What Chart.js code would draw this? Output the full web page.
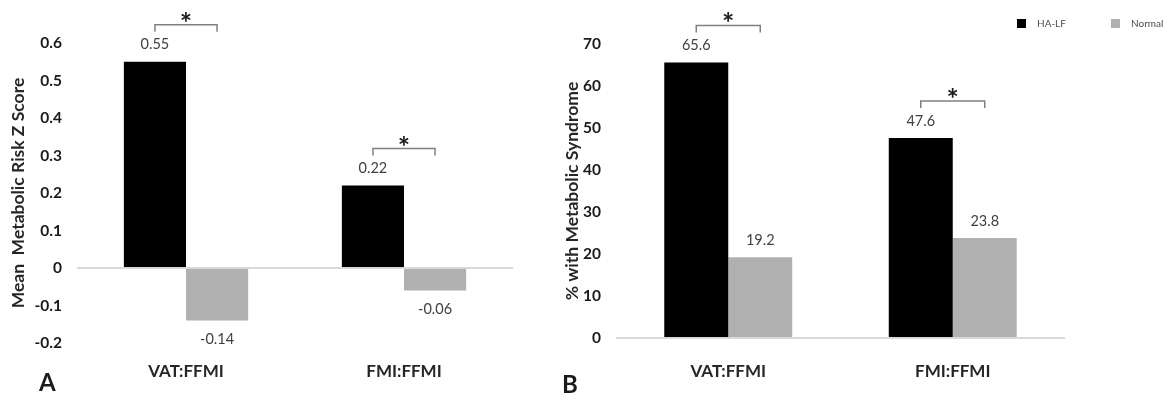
<!DOCTYPE html>
<html>
<head>
<meta charset="utf-8">
<script src="https://cdn.jsdelivr.net/npm/chart.js@4.4.1/dist/chart.umd.min.js"></script>
<style>
    body { margin: 0; background: #fff; }
    #wrap { position: relative; width: 1174px; height: 401px; overflow: hidden; }
    canvas { position: absolute; top: 0; }
    #chartA { left: 0; }
    #chartB { left: 560px; }
    .panel { position: absolute; font: bold 24px Lato, sans-serif; color: #1a1a1a; }
</style>
</head>
<body>
<div id="wrap">
    <canvas id="chartA" width="560" height="401"></canvas>
    <canvas id="chartB" width="614" height="401"></canvas>
    <div class="panel" style="left:39px; top:367px;">A</div>
    <div class="panel" style="left:562px; top:369px;">B</div>
</div>
<script>
const categories = ['VAT:FFMI', 'FMI:FFMI'];
const seriesNames = ['HA-LF', 'Normal'];

// panel A: mean metabolic risk z score
const zHALF = [0.55, 0.22];
const zNormal = [-0.14, -0.06];
const zTicks = [-0.2, -0.1, 0, 0.1, 0.2, 0.3, 0.4, 0.5, 0.6];
const zSignif = [true, true];

// panel B: % with metabolic syndrome
const pctHALF = [65.6, 47.6];
const pctNormal = [19.2, 23.8];
const pctTicks = [0, 10, 20, 30, 40, 50, 60, 70];
const pctSignif = [true, true];

const BLACK = '#000000';
const GREY = '#b0b0b0';
const FONT = 'Lato, sans-serif';

// value labels, significance brackets
const annotatePlugin = {
    id: 'annotate',
    afterDatasetsDraw(chart, args, opts) {
        const ctx = chart.ctx;
        const m0 = chart.getDatasetMeta(0);
        const m1 = chart.getDatasetMeta(1);
        const zeroY = chart.scales.y.getPixelForValue(0);
        ctx.save();
        ctx.font = '14.5px ' + FONT;
        ctx.fillStyle = '#404040';
        ctx.textAlign = 'center';
        ctx.textBaseline = 'middle';
        chart.data.datasets.forEach((ds, i) => {
            chart.getDatasetMeta(i).data.forEach((bar, j) => {
                const v = ds.data[j];
                const y = v >= 0 ? bar.y - 17 : bar.y + 19;
                ctx.fillText(v.toFixed(opts.digits), bar.x, y);
            });
        });
        opts.signif.forEach((sig, j) => {
            if (!sig) return;
            const a = m0.data[j], b = m1.data[j];
            const y = Math.min(a.y, b.y, zeroY) - 37;
            ctx.strokeStyle = '#808080';
            ctx.lineWidth = 1.5;
            ctx.beginPath();
            ctx.moveTo(a.x, y + 7);
            ctx.lineTo(a.x, y);
            ctx.lineTo(b.x, y);
            ctx.lineTo(b.x, y + 7);
            ctx.stroke();
            ctx.font = 'bold 29px ' + FONT;
            ctx.fillStyle = '#1a1a1a';
            ctx.textBaseline = 'alphabetic';
            ctx.fillText('*', (a.x + b.x) / 2, y + 8);
        });
        ctx.restore();
    }
};

// small legend in the top right corner of panel B
const cornerLegend = {
    id: 'cornerLegend',
    afterDraw(chart, args, opts) {
        if (!opts.show) return;
        const ctx = chart.ctx;
        ctx.save();
        ctx.font = '10px ' + FONT;
        ctx.textBaseline = 'middle';
        ctx.textAlign = 'left';
        chart.data.datasets.forEach((ds, i) => {
            const x = opts.x[i];
            ctx.fillStyle = ds.backgroundColor;
            ctx.fillRect(x, opts.y, 9, 9);
            ctx.fillStyle = '#4d4d4d';
            ctx.fillText(ds.label, x + 20, opts.y + 5);
        });
        ctx.restore();
    }
};

function makeChart(canvasId, halfData, normalData, ticks, signif, cfg) {
    return new Chart(document.getElementById(canvasId), {
        type: 'bar',
        data: {
            labels: categories,
            datasets: [{
                label: seriesNames[0],
                data: halfData,
                backgroundColor: BLACK,
                categoryPercentage: 0.57,
                barPercentage: 1
            }, {
                label: seriesNames[1],
                data: normalData,
                backgroundColor: GREY,
                categoryPercentage: 0.57,
                barPercentage: 1
            }]
        },
        options: {
            responsive: false,
            animation: false,
            devicePixelRatio: 1,
            layout: { padding: cfg.padding },
            scales: {
                x: {
                    grid: { display: false },
                    border: { display: false },
                    ticks: {
                        color: '#262626',
                        padding: cfg.xPad,
                        font: { family: FONT, size: 17, weight: 'bold' }
                    },
                    afterFit: s => { s.height = cfg.xHeight; }
                },
                y: {
                    min: ticks[0],
                    max: ticks[ticks.length - 1],
                    afterBuildTicks: axis => { axis.ticks = ticks.map(v => ({ value: v })); },
                    afterFit: s => { s.width = cfg.yWidth; },
                    border: { display: false },
                    grid: {
                        drawTicks: false,
                        lineWidth: 2,
                        color: c => c.tick && c.tick.value === 0 ? '#d9d9d9' : 'rgba(0,0,0,0)'
                    },
                    ticks: {
                        color: '#1a1a1a',
                        padding: 15,
                        font: { family: FONT, size: 15.5, weight: 'bold' },
                        callback: v => String(Number(v.toFixed(1)))
                    },
                    title: {
                        display: true,
                        text: cfg.yTitle,
                        color: '#262626',
                        padding: { top: cfg.titlePad, bottom: 0 },
                        font: { family: FONT, size: 17.5, weight: 'bold' }
                    }
                }
            },
            plugins: {
                legend: { display: false },
                tooltip: { enabled: false },
                annotate: { digits: cfg.digits, signif: signif },
                cornerLegend: cfg.legend
            }
        },
        plugins: [annotatePlugin, cornerLegend]
    });
}

Promise.all([
    document.fonts.load('bold 16px Lato'),
    document.fonts.load('14px Lato')
]).catch(() => {}).then(() => {
    makeChart('chartA', zHALF, zNormal, zTicks, zSignif, {
        padding: { top: 43, right: 47, bottom: 0, left: 0 },
        xHeight: 58, xPad: 10, yWidth: 77, titlePad: 8,
        yTitle: 'Mean  Metabolic Risk Z Score',
        digits: 2,
        legend: { show: false }
    });
    makeChart('chartB', pctHALF, pctNormal, pctTicks, pctSignif, {
        padding: { top: 44, right: 109, bottom: 0, left: 0 },
        xHeight: 63, xPad: 15, yWidth: 56, titlePad: 2,
        yTitle: '% with Metabolic Syndrome',
        digits: 1,
        legend: { show: true, x: [457, 551], y: 19 }
    });
});
</script>
</body>
</html>
